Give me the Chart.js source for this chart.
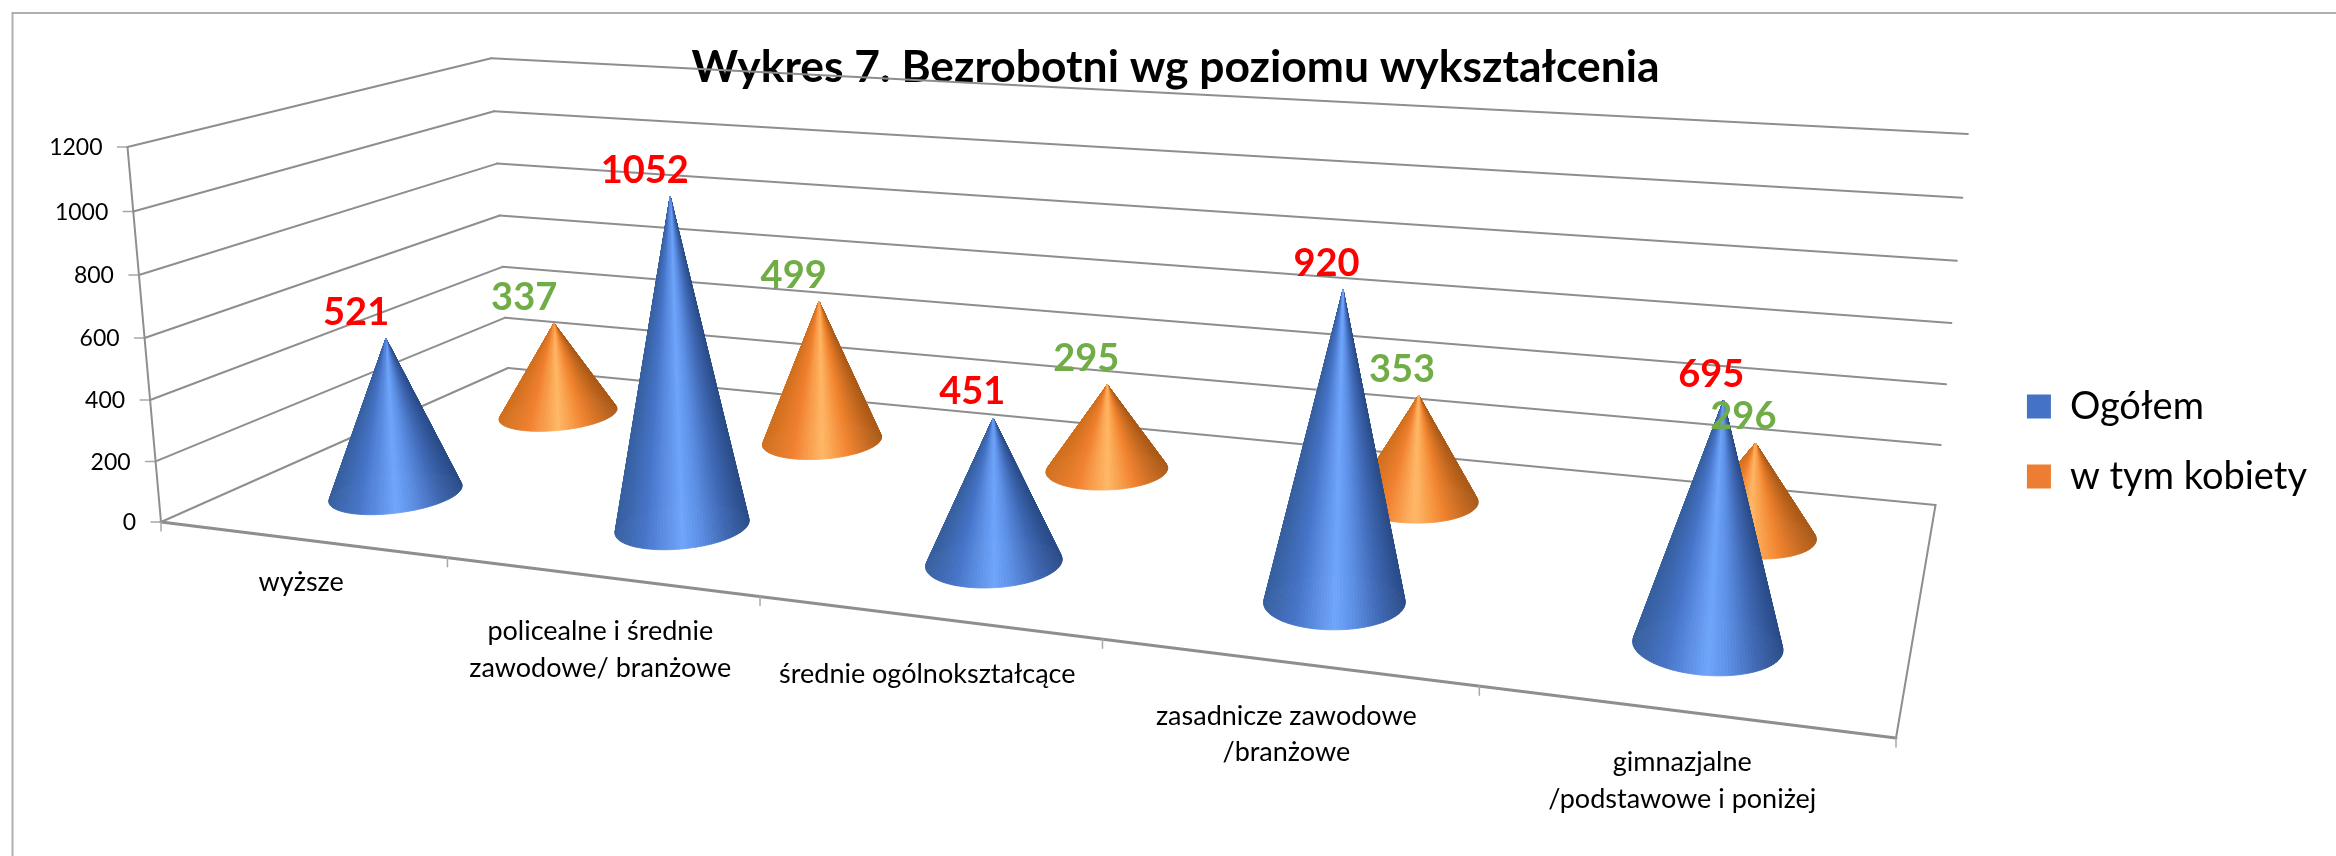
<!DOCTYPE html>
<html lang="pl">
<head>
<meta charset="utf-8">
<title>Wykres 7</title>
<script src="https://cdn.jsdelivr.net/npm/chart.js@4/dist/chart.umd.js"></script>
<style>
html,body{margin:0;padding:0;background:#fff;}
canvas{display:block;}
</style>
</head>
<body>
<canvas id="c" width="2336" height="856"></canvas>
<script>
const categories = [
  ['wyższe'],
  ['policealne i średnie', 'zawodowe/ branżowe'],
  ['średnie ogólnokształcące'],
  ['zasadnicze zawodowe', '/branżowe'],
  ['gimnazjalne', '/podstawowe i poniżej']
];
const ogolem = [521, 1052, 451, 920, 695];
const kobiety = [337, 499, 295, 353, 296];
const seriesNames = ['Ogółem', 'w tym kobiety'];
const titleText = 'Wykres 7. Bezrobotni wg poziomu wykształcenia';
const axisMax = 1200;
const axisStep = 200;

/* ---- 3D view: a pinhole camera fitted to the corners of the box ---- */
const VIEW = {
  floor: [[161, 522], [1896, 738], [1935.5, 505], [508, 368]],
  topFrontLeft: [127.5, 147],
  perspective: -0.036
};
const SERIES_DEPTH = [0.25, 0.75];
const CONE_RU = 0.038, CONE_RW = 0.115;
const LABEL_DROP = [43, 55, 57, 54, 51];
const LINE = '#8e8e8e';
const RAMPS = [
  [[0,'#37609f'],[.22,'#4674c8'],[.5,'#6fa5fb'],[.62,'#5f92e8'],[.82,'#4069b5'],[1,'#2a4c88']],
  [[0,'#d0701f'],[.25,'#f0802f'],[.5,'#ffb866'],[.72,'#f2842f'],[1,'#ab5a18']]
];
const VALUE_COLORS = ['#FF0000', '#70AD47'];

function camera(q, top, k) {
  const [[x0,y0],[x1,y1],[x2,y2],[x3,y3]] = q;
  const dx1=x1-x2, dx2=x3-x2, sx=x0-x1+x2-x3, dy1=y1-y2, dy2=y3-y2, sy=y0-y1+y2-y3;
  const den=dx1*dy2-dx2*dy1;
  const g=(sx*dy2-dx2*sy)/den, h=(dx1*sy-sx*dy1)/den;
  const a=x1-x0+g*x1, b=x3-x0+h*x3, d=y1-y0+g*y1, e=y3-y0+h*y3;
  const C=top[0]*(1+k)-x0, F=top[1]*(1+k)-y0;
  return (u,w,t)=>{const D=g*u+h*w+k*t+1;return [(a*u+b*w+C*t+x0)/D,(d*u+e*w+F*t+y0)/D];};
}
const project = camera(VIEW.floor, VIEW.topFrontLeft, VIEW.perspective);

function hex(c){return [1,3,5].map(i=>parseInt(c.substr(i,2),16));}
function ramp(stops,t){
  for(let i=1;i<stops.length;i++){
    if(t<=stops[i][0]){
      const a=stops[i-1],b=stops[i],k=(t-a[0])/(b[0]-a[0]);
      const A=hex(a[1]),B=hex(b[1]);
      return 'rgb('+A.map((v,j)=>Math.round(v+(B[j]-v)*k)).join(',')+')';
    }
  }
  return stops[stops.length-1][1];
}
function segment(ctx,a,b,color,width){
  ctx.strokeStyle=color;ctx.lineWidth=width;ctx.beginPath();ctx.moveTo(a[0],a[1]);ctx.lineTo(b[0],b[1]);ctx.stroke();
}
function uOf(chart,px){const a=chart.chartArea;return (px-a.left)/(a.right-a.left);}
function tOf(scale,v){return (scale.getPixelForValue(0)-scale.getPixelForValue(v))/(scale.getPixelForValue(0)-scale.getPixelForValue(scale.max));}

class ConeController extends Chart.BarController {
  draw() {
    const chart=this.chart, ctx=chart.ctx, meta=this.getMeta(), idx=this.index;
    const w0=SERIES_DEPTH[idx], stops=RAMPS[idx], N=140;
    const area=chart.chartArea;
    meta.data.forEach(el=>{
      const u0=uOf(chart,el.x);
      const t=(el.base-el.y)/(area.bottom-area.top);
      const apex=project(u0,w0,t);
      const pts=[];
      for(let i=0;i<N;i++){
        const a=i/N*Math.PI*2;
        pts.push(project(u0+CONE_RU*Math.cos(a),w0+CONE_RW*Math.sin(a),0));
      }
      const xs=pts.map(p=>p[0]),minX=Math.min(...xs),maxX=Math.max(...xs);
      const segs=pts.map((p,i)=>{const q=pts[(i+1)%N];return {p,q,my:(p[1]+q[1])/2,mx:(p[0]+q[0])/2};});
      segs.sort((a,b)=>a.my-b.my);
      ctx.save();
      ctx.lineJoin='round';
      segs.forEach(s=>{
        const col=ramp(stops,(s.mx-minX)/(maxX-minX));
        ctx.fillStyle=col;ctx.strokeStyle=col;ctx.lineWidth=0.8;
        ctx.beginPath();ctx.moveTo(apex[0],apex[1]);ctx.lineTo(s.p[0],s.p[1]);ctx.lineTo(s.q[0],s.q[1]);ctx.closePath();
        ctx.fill();ctx.stroke();
      });
      ctx.restore();
    });
  }
}
ConeController.id='cone';
ConeController.defaults=Chart.BarController.defaults;
ConeController.overrides=Chart.BarController.overrides;
Chart.register(ConeController);

const boxPlugin = {
  id:'box3d',
  beforeDatasetsDraw(chart){
    const ctx=chart.ctx, ys=chart.scales.y, xs=chart.scales.x;
    ctx.save();
    ctx.lineCap='round';
    segment(ctx,[12.5,13],[2336,13],'#b0b0b0',2);
    segment(ctx,[12.5,13],[12.5,856],'#b0b0b0',2);
    ys.ticks.forEach(tk=>{
      const t=tOf(ys,tk.value);
      const a=project(0,0,t), b=project(0,1,t), c=project(1,1,t);
      segment(ctx,a,b,LINE,2);
      segment(ctx,b,c,LINE,2);
      segment(ctx,[a[0]-10,a[1]],a,'#a8a8a8',1.5);
      ctx.fillStyle='#000';ctx.font='23px Lato';ctx.textAlign='right';ctx.textBaseline='middle';
      ctx.fillText(String(tk.value),a[0]-25,a[1]+1);
    });
    segment(ctx,project(0,0,0),project(0,0,1),LINE,2);
    segment(ctx,project(1,0,0),project(1,1,0),LINE,2);
    segment(ctx,project(0,0,0),project(1,0,0),LINE,3);
    const n=chart.data.labels.length;
    for(let i=0;i<=n;i++){
      const p=project(i/n,0,0);
      segment(ctx,p,[p[0],p[1]+9],'#a8a8a8',1.5);
    }
    ctx.fillStyle='#000';ctx.font='27px Lato';ctx.textAlign='center';ctx.textBaseline='middle';
    chart.data.labels.forEach((lab,i)=>{
      const p=project(uOf(chart,xs.getPixelForTick(i)),0,0);
      lab.forEach((line,j)=>ctx.fillText(line,p[0],p[1]+LABEL_DROP[i]+j*36.5));
    });
    ctx.restore();
  },
  afterDatasetsDraw(chart){
    const ctx=chart.ctx, area=chart.chartArea;
    ctx.save();
    ctx.font='bold 38px Lato';ctx.textAlign='center';ctx.textBaseline='middle';
    chart.data.datasets.forEach((ds,di)=>{
      chart.getDatasetMeta(di).data.forEach((el,i)=>{
        const u=uOf(chart,el.x);
        const apex=project(u,SERIES_DEPTH[di],(el.base-el.y)/(area.bottom-area.top));
        ctx.fillStyle=VALUE_COLORS[di];
        ctx.fillText(String(ds.data[i]),apex[0]-32+22*u,apex[1]-26);
      });
    });
    ctx.restore();
  }
};

new Chart(document.getElementById('c'),{
  type:'cone',
  data:{
    labels:categories,
    datasets:[
      {label:seriesNames[0],data:ogolem,backgroundColor:'#4472C4',grouped:false},
      {label:seriesNames[1],data:kobiety,backgroundColor:'#ED7D31',grouped:false}
    ]
  },
  plugins:[boxPlugin],
  options:{
    responsive:false,
    animation:false,
    layout:{padding:{left:34,right:19,top:41,bottom:14}},
    scales:{
      x:{type:'category',display:false},
      y:{type:'linear',display:false,min:0,max:axisMax,ticks:{stepSize:axisStep}}
    },
    plugins:{
      tooltip:{enabled:false},
      title:{display:true,text:titleText,color:'#000',font:{family:'Lato',size:44.4,weight:'bold'},padding:{top:0,bottom:10}},
      legend:{
        display:true,position:'right',
        labels:{boxWidth:24,boxHeight:24,padding:32,color:'#000',font:{family:'Lato',size:38}}
      }
    }
  }
});
</script>
</body>
</html>
